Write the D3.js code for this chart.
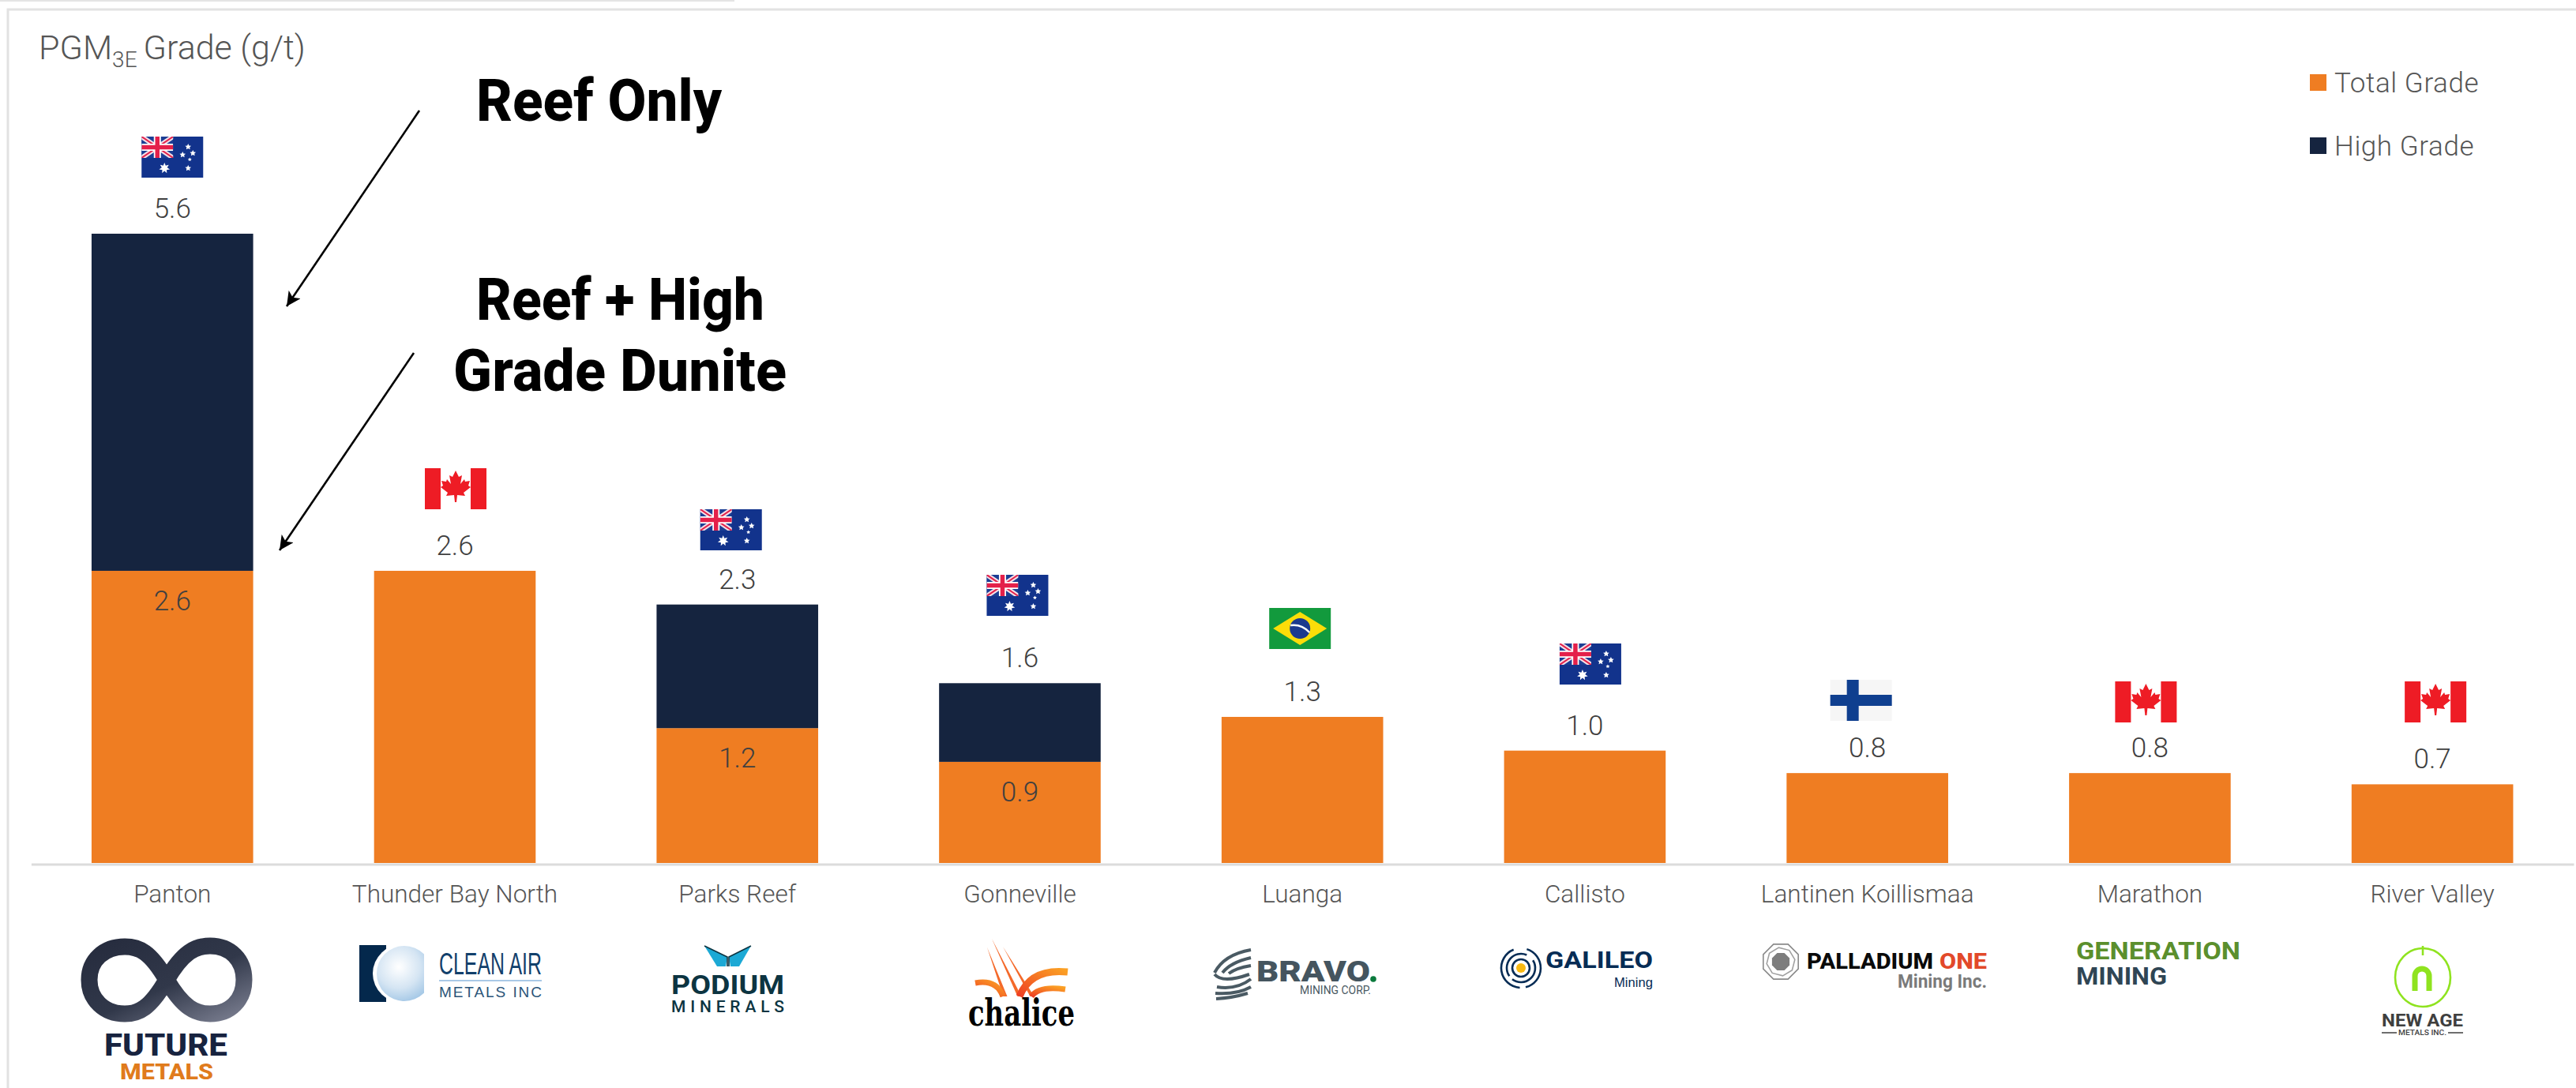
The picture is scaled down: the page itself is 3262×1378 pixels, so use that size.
<!DOCTYPE html>
<html>
<head>
<meta charset="utf-8">
<title>PGM3E Grade</title>
<script src="https://cdn.jsdelivr.net/npm/d3@7/dist/d3.min.js"></script>
<style>
  html, body { margin: 0; padding: 0; background: #fff; overflow: hidden; }
  svg { display: block; }
  text { font-family: Roboto, sans-serif; }
</style>
</head>
<body>
<svg id="chart" width="3262" height="1378"></svg>
<script>
// Projects, ordered by grade
const projects = ["Panton", "Thunder Bay North", "Parks Reef", "Gonneville", "Luanga", "Callisto", "Lantinen Koillismaa", "Marathon", "River Valley"];
// Grade of the whole deposit (g/t PGM3E)
const totalGrade = [2.6, 2.6, 1.2, 0.9, 1.3, 1.0, 0.8, 0.8, 0.7];
// Grade of the high grade zone, where one is reported
const highGrade = [5.6, null, 2.3, 1.6, null, null, null, null, null];
const countries = ["AU", "CA", "AU", "AU", "BR", "AU", "FI", "CA", "CA"];

const ORANGE = "#EF7D22", NAVY = "#15243F", TEXT = "#555555", VALUE = "#404040";
const svg = d3.select("#chart");
const defs = svg.append("defs");

// Page furniture: header strip and panel rule
svg.append("rect").attr("x", 0).attr("y", 0).attr("width", 930).attr("height", 2).attr("fill", "#e4e4e4");
svg.append("path").attr("d", "M10,1378V12H3262").attr("fill", "none").attr("stroke", "#e2e2e2").attr("stroke-width", 3);

// Scales
const x = d3.scaleBand().domain(projects).range([39.4, 3259]).paddingInner(0.428).paddingOuter(0.214);
const y = d3.scaleLinear().domain([0, 5.6]).range([1093, 296]);

// Bars: the high grade part sits on top of the total grade part
const rows = projects.map((name, i) => ({ name, total: totalGrade[i], high: highGrade[i], country: countries[i] }));
const barG = svg.append("g");
barG.selectAll("rect.total").data(rows).join("rect").attr("class", "total")
  .attr("x", d => x(d.name)).attr("width", x.bandwidth())
  .attr("y", d => y(d.total)).attr("height", d => y(0) - y(d.total)).attr("fill", ORANGE);
barG.selectAll("rect.high").data(rows.filter(d => d.high != null)).join("rect").attr("class", "high")
  .attr("x", d => x(d.name)).attr("width", x.bandwidth())
  .attr("y", d => y(d.high)).attr("height", d => y(d.total) - y(d.high)).attr("fill", NAVY);

// Category axis
const axis = svg.append("g").attr("transform", `translate(0,${y(0)})`).call(d3.axisBottom(x).tickSize(0).tickSizeOuter(0));
axis.select(".domain").attr("stroke", "#dcdcdc").attr("stroke-width", 3).attr("transform", "translate(0,1.5)");
axis.selectAll("text").attr("y", 50).attr("dy", 0).attr("font-size", 31.5).attr("font-weight", 300)
  .attr("fill", TEXT).style("font-family", "Roboto, sans-serif");

// Value labels
const fmt = d3.format(".1f");
const valueText = (sel) => sel.attr("text-anchor", "middle").attr("font-size", 35).attr("fill", VALUE).attr("font-weight", 300);
svg.selectAll("text.top").data(rows).join("text").attr("class", "top").call(valueText)
  .attr("x", d => x(d.name) + x.bandwidth() / 2)
  .attr("y", d => y(d.high != null ? d.high : d.total) - 20)
  .text(d => fmt(d.high != null ? d.high : d.total));
svg.selectAll("text.inner").data(rows.filter(d => d.high != null)).join("text").attr("class", "inner").call(valueText)
  .attr("x", d => x(d.name) + x.bandwidth() / 2)
  .attr("y", d => y(d.total) + 50)
  .text(d => fmt(d.total));

// Axis title
const title = svg.append("text").attr("x", 49).attr("y", 75).attr("font-size", 43).attr("font-weight", 300).attr("fill", TEXT);
title.append("tspan").text("PGM");
title.append("tspan").attr("font-size", 28).attr("dy", 10).text("3E");
title.append("tspan").attr("dy", -10).attr("dx", 8).text("Grade (g/t)");

// Legend
const legend = [["Total Grade", ORANGE, 94], ["High Grade", NAVY, 174]];
legend.forEach(([label, colour, top]) => {
  svg.append("rect").attr("x", 2925).attr("y", top).attr("width", 21).attr("height", 21).attr("fill", colour);
  svg.append("text").attr("x", 2956).attr("y", top + 23).attr("font-size", 35).attr("font-weight", 300)
    .attr("fill", TEXT).style("letter-spacing", "0.6px").text(label);
});

// Callouts
const callout = (txt, x0, x1, base) => svg.append("text").attr("x", x0).attr("y", base)
  .attr("textLength", x1 - x0).attr("lengthAdjust", "spacingAndGlyphs")
  .attr("font-size", 75).attr("font-weight", 800).attr("fill", "#000").text(txt);
callout("Reef Only", 603, 914, 153);
callout("Reef + High", 603, 968, 405);
callout("Grade Dunite", 574, 996, 495);
defs.append("marker").attr("id", "head").attr("viewBox", "0 0 10 10").attr("refX", 10).attr("refY", 5)
  .attr("markerWidth", 7).attr("markerHeight", 7).attr("orient", "auto")
  .append("path").attr("d", "M0,0L10,5L0,10L2.5,5Z").attr("fill", "#000");
[[531, 140, 363, 388], [524, 447, 354, 697]].forEach(([a, b, c, d]) => {
  svg.append("line").attr("x1", a).attr("y1", b).attr("x2", c).attr("y2", d)
    .attr("stroke", "#000").attr("stroke-width", 2.6).attr("marker-end", "url(#head)");
});

// Flags, drawn in their own FW x FH coordinates
const FW = 78, FH = 52;
const star = (g, cx, cy, r, points) => {
  const pts = d3.range(points * 2).map(i => {
    const a = -Math.PI / 2 + i * Math.PI / points, rr = i % 2 ? r * 0.5 : r;
    return [cx + rr * Math.cos(a), cy + rr * Math.sin(a)];
  });
  g.append("polygon").attr("points", pts.join(" ")).attr("fill", "#fff");
};
const flagPainters = {
  AU(g) {
    g.append("rect").attr("width", FW).attr("height", FH).attr("fill", "#12338C");
    const cw = 40, ch = 27;
    const u = g.append("g").attr("clip-path", "url(#canton)");
    u.append("rect").attr("width", cw).attr("height", ch).attr("fill", "#1B3E94");
    u.append("path").attr("d", `M0,0L${cw},${ch}M${cw},0L0,${ch}`).attr("stroke", "#f4dfe6").attr("stroke-width", 6);
    u.append("path").attr("d", `M0,0L${cw},${ch}M${cw},0L0,${ch}`).attr("stroke", "#E4204A").attr("stroke-width", 2);
    u.append("path").attr("d", `M${cw / 2},0V${ch}M0,${ch / 2}H${cw}`).attr("stroke", "#fff").attr("stroke-width", 9);
    u.append("path").attr("d", `M${cw / 2},0V${ch}M0,${ch / 2}H${cw}`).attr("stroke", "#E4204A").attr("stroke-width", 5.5);
    star(g, 29, 40, 7, 7);
    [[59, 13], [65, 21], [52, 23], [59, 40]].forEach(([a, b]) => star(g, a, b, 4, 5));
    star(g, 61, 29, 2.6, 5);
  },
  CA(g) {
    g.append("rect").attr("width", FW).attr("height", FH).attr("fill", "#fff");
    g.append("rect").attr("width", 20).attr("height", FH).attr("fill", "#EE1C25");
    g.append("rect").attr("x", FW - 20).attr("width", 20).attr("height", FH).attr("fill", "#EE1C25");
    const leaf = [[0,-22],[-4,-14],[-8,-16],[-6,-5],[-11,-11],[-12,-8],[-18,-9],[-16,-3],[-19,-1],[-10,6],[-12,10],[-2,9],[-1,18],[1,18],[2,9],[12,10],[10,6],[19,-1],[16,-3],[18,-9],[12,-8],[11,-11],[6,-5],[8,-16],[4,-14]];
    g.append("polygon").attr("points", leaf.join(" ")).attr("transform", `translate(${FW / 2},25)`).attr("fill", "#EE1C25");
  },
  BR(g) {
    g.append("rect").attr("width", FW).attr("height", FH).attr("fill", "#129A3D");
    g.append("polygon").attr("points", `39,5 73,26 39,47 5,26`).attr("fill", "#FCDD09");
    g.append("circle").attr("cx", 39).attr("cy", 26).attr("r", 13).attr("fill", "#1C3A8E");
    g.append("path").attr("d", "M27,22Q41,20 51,31").attr("stroke", "#fff").attr("stroke-width", 2.4).attr("fill", "none");
  },
  FI(g) {
    g.append("rect").attr("width", FW).attr("height", FH).attr("fill", "#f6f6f6");
    g.append("rect").attr("x", 21).attr("width", 15).attr("height", FH).attr("fill", "#0F3F8F");
    g.append("rect").attr("y", 19).attr("width", FW).attr("height", 14).attr("fill", "#0F3F8F");
  }
};
defs.append("clipPath").attr("id", "canton").append("rect").attr("width", 40).attr("height", 27);
// Flag tops and small centre nudges for each project
const flagTop = [173, 593, 645, 728, 770, 815, 861, 863, 863];
const flagNudge = [0, 1, -8, -3, -3, 7, -8, -5, 4];
rows.forEach((d, i) => {
  const g = svg.append("g").attr("transform", `translate(${x(d.name) + x.bandwidth() / 2 - FW / 2 + flagNudge[i]},${flagTop[i]})`);
  flagPainters[d.country](g);
});

// Company marks along the foot of the chart
const logos = svg.append("g");
const word = (txt, x0, x1, base, size, fill, weight, family, adjust) => logos.append("text")
  .attr("x", x0).attr("y", base).attr("font-size", size).attr("font-weight", weight || 700).attr("fill", fill)
  .style("font-family", family || "Roboto, sans-serif")
  .attr("textLength", x1 - x0).attr("lengthAdjust", adjust || "spacingAndGlyphs").text(txt);
const NARROW = "'Liberation Sans Narrow', sans-serif";

// Future Metals
const inf = defs.append("linearGradient").attr("id", "infG").attr("x1", 0).attr("y1", 0).attr("x2", 1).attr("y2", 1);
inf.append("stop").attr("offset", 0).attr("stop-color", "#262C3E");
inf.append("stop").attr("offset", 0.55).attr("stop-color", "#31384A");
inf.append("stop").attr("offset", 1).attr("stop-color", "#767A8C");
logos.append("path")
  .attr("d", "M211,1241C232,1205 248,1198 266,1198C292,1198 309,1216 309,1241C309,1266 292,1284 266,1284C248,1284 232,1277 211,1241C190,1205 176,1199 158,1199C132,1199 113,1216 113,1241C113,1266 132,1284 158,1284C176,1284 190,1277 211,1241Z")
  .attr("fill", "none").attr("stroke", "url(#infG)").attr("stroke-width", 21);
word("FUTURE", 132, 288, 1337, 38, "#17233F", 800);
word("METALS", 152, 270, 1367, 28, "#E07B1C", 800);

// Clean Air Metals
const sph = defs.append("radialGradient").attr("id", "sphG").attr("cx", 0.4).attr("cy", 0.38).attr("r", 0.7);
sph.append("stop").attr("offset", 0).attr("stop-color", "#ffffff");
sph.append("stop").attr("offset", 0.55).attr("stop-color", "#d5e5f3");
sph.append("stop").attr("offset", 1).attr("stop-color", "#9cc3e4");
defs.append("clipPath").attr("id", "sphClip").append("rect").attr("x", 440).attr("y", 1190).attr("width", 97).attr("height", 90);
logos.append("rect").attr("x", 455).attr("y", 1197).attr("width", 34).attr("height", 72).attr("fill", "#04284C");
logos.append("ellipse").attr("cx", 512).attr("cy", 1233).attr("rx", 40).attr("ry", 38).attr("fill", "#fff").attr("clip-path", "url(#sphClip)");
logos.append("ellipse").attr("cx", 512).attr("cy", 1233).attr("rx", 35).attr("ry", 35).attr("fill", "url(#sphG)").attr("clip-path", "url(#sphClip)");
word("CLEAN AIR", 556, 686, 1234, 39, "#12406B", 400, NARROW);
logos.append("rect").attr("x", 556).attr("y", 1241).attr("width", 130).attr("height", 2).attr("fill", "#A9C9E6");
word("METALS INC", 556, 686, 1263, 19, "#2A5478", 400, NARROW, "spacing");

// Podium Minerals
logos.append("polygon").attr("points", "892,1198 921,1212 919,1224 908,1224").attr("fill", "#1CA9D5");
logos.append("polygon").attr("points", "951,1198 923,1212 925,1224 936,1224").attr("fill", "#1CA9D5");
logos.append("path").attr("d", "M892,1198L921,1212V1224M951,1198L923,1212V1224").attr("fill", "none").attr("stroke", "#0C3441").attr("stroke-width", 1.6);
word("PODIUM", 850, 993, 1259, 33, "#0C3441", 700);
word("MINERALS", 850, 993, 1282, 21, "#0C3441", 500, null, "spacing");

// Chalice
const chal = defs.append("linearGradient").attr("id", "chalG").attr("x1", 0).attr("y1", 1).attr("x2", 1).attr("y2", 0);
chal.append("stop").attr("offset", 0).attr("stop-color", "#EE3E24");
chal.append("stop").attr("offset", 1).attr("stop-color", "#FBA024");
[[1256, 1189, 1291, 1262], [1250, 1200, 1273, 1262], [1270, 1199, 1307, 1262]].forEach(([a, b, c, d]) => {
  logos.append("polygon").attr("points", `${a},${b} ${c + 2.5},${d} ${c - 2.5},${d}`).attr("fill", "#F4692A");
});
logos.append("path").attr("d", "M1235,1245Q1262,1240 1270,1262").attr("fill", "none").attr("stroke", "url(#chalG)").attr("stroke-width", 7);
logos.append("path").attr("d", "M1291,1262Q1305,1226 1352,1231").attr("fill", "none").attr("stroke", "url(#chalG)").attr("stroke-width", 9);
logos.append("path").attr("d", "M1306,1262Q1316,1248 1349,1253").attr("fill", "none").attr("stroke", "url(#chalG)").attr("stroke-width", 7);
word("chalice", 1226, 1361, 1299, 46, "#000", 700, "'DejaVu Serif', serif");

// Bravo Mining
["M1584,1203Q1550,1209 1538,1232", "M1584,1213Q1558,1219 1548,1232", "M1584,1223Q1565,1226 1556,1233",
 "M1538,1234Q1548,1246 1582,1234", "M1584,1240Q1566,1254 1541,1250", "M1584,1250Q1566,1260 1539,1258", "M1580,1258Q1560,1264 1540,1265"]
  .forEach(d => logos.append("path").attr("d", d).attr("fill", "none").attr("stroke", "#4A5A63").attr("stroke-width", 4));
word("BRAVO", 1591, 1735, 1243, 37, "#45555F", 900);
logos.append("circle").attr("cx", 1739).attr("cy", 1240).attr("r", 3.8).attr("fill", "#0A7A3C");
word("MINING CORP.", 1646, 1736, 1259, 14, "#4A5A63", 400);

// Galileo Mining
const ringArc = d3.arc();
[[25, 0.3, 2.9], [25, 3.2, 5.9], [18, 1.0, 3.8], [18, 4.1, 6.7], [11, 0, 6.3]].forEach(([r, a0, a1]) => {
  logos.append("path").attr("transform", "translate(1926,1226)")
    .attr("d", ringArc({ innerRadius: r - 1.3, outerRadius: r + 1.3, startAngle: a0, endAngle: a1 })).attr("fill", "#062C55");
});
logos.append("circle").attr("cx", 1926).attr("cy", 1226).attr("r", 6).attr("fill", "#F9B912");
word("GALILEO", 1957, 2093, 1226, 30, "#062C55", 700);
word("Mining", 2044, 2093, 1250, 17, "#062C55", 400, NARROW);

// Palladium One
const octa = (r, rot) => d3.range(8).map(i => {
  const a = Math.PI / 8 + i * Math.PI / 4 + (rot || 0);
  return [2255 + r * Math.cos(a), 1218 + r * Math.sin(a)];
}).join(" ");
logos.append("polygon").attr("points", octa(24)).attr("fill", "#fff").attr("stroke", "#8a8a8a").attr("stroke-width", 1.6);
logos.append("polygon").attr("points", octa(18, 0.25)).attr("fill", "#fff").attr("stroke", "#a0a0a0").attr("stroke-width", 1.6);
logos.append("polygon").attr("points", octa(12)).attr("fill", "#7d7d7d");
word("PALLADIUM", 2288, 2448, 1227, 28, "#0a0a0a", 800);
word("ONE", 2456, 2516, 1227, 28, "#E2492A", 800);
word("Mining Inc.", 2403, 2516, 1251, 24, "#7a7a7a", 700);

// Generation Mining
word("GENERATION", 2629, 2837, 1215, 32, "#5B8F2D", 700);
word("MINING", 2629, 2744, 1247, 32, "#2F4554", 700);

// New Age Metals
logos.append("ellipse").attr("cx", 3068).attr("cy", 1238).attr("rx", 35).attr("ry", 37).attr("fill", "none").attr("stroke", "#8FE31F").attr("stroke-width", 2.6);
logos.append("line").attr("x1", 3068).attr("x2", 3068).attr("y1", 1198).attr("y2", 1210).attr("stroke", "#8FE31F").attr("stroke-width", 2.6);
logos.append("path").attr("d", "M3058,1255V1236A9,9 0 0 1 3076,1236V1255").attr("fill", "none").attr("stroke", "#8FE31F").attr("stroke-width", 7);
word("NEW AGE", 3016, 3119, 1300, 22, "#3F3F3F", 700);
word("METALS INC.", 3037, 3098, 1311, 9, "#3F3F3F", 500);
logos.append("path").attr("d", "M3016,1308H3035M3100,1308H3119").attr("stroke", "#3F3F3F").attr("stroke-width", 1.6);
</script>
</body>
</html>
